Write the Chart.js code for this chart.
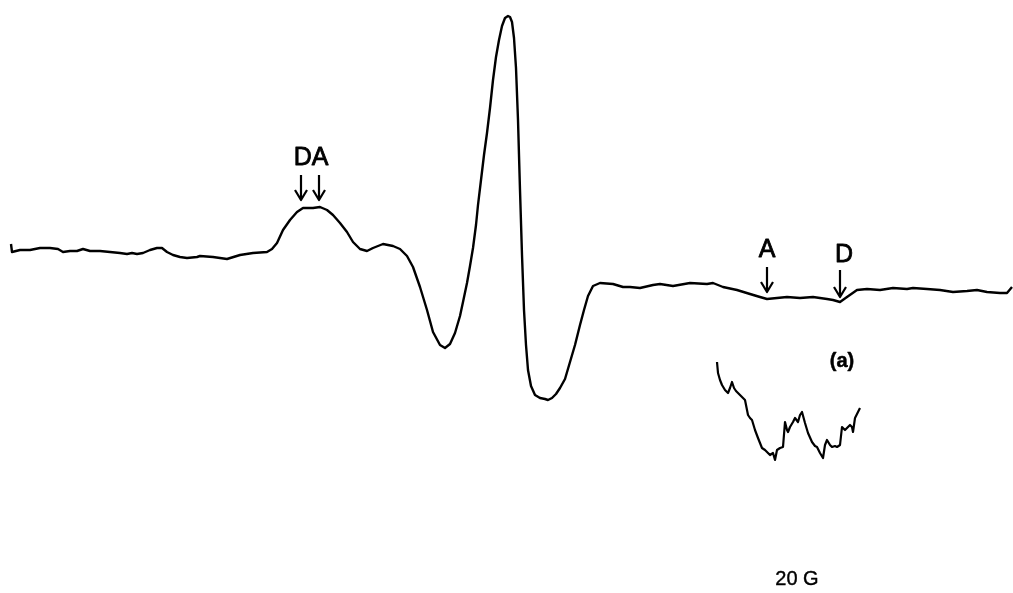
<!DOCTYPE html>
<html>
<head>
<meta charset="utf-8">
<style>
  html, body { margin: 0; padding: 0; background: #fff; }
  #wrap { width: 1013px; height: 593px; }
</style>
<script src="https://cdn.jsdelivr.net/npm/chart.js@4/dist/chart.umd.min.js"></script>
</head>
<body>
<div id="wrap"><canvas id="epr" width="1013" height="593"></canvas></div>
<script>
// EPR first-derivative spectrum (field in arbitrary units, signal relative to baseline)
const mainField = [11,12,20,30,40,50,58,63,70,77,83,90,100,110,120,127,132,137,143,150,157,162,167,173,180,187,197,
  200,213,227,240,253,267,272,277,283,290,297,303,313,320,327,333,340,347,353,360,367,373,383,393,400,
  407,413,420,427,433,440,445,450,455,460,463,467,470,473,476,478,481,484,487,490,493,496,499,502,505,508,510,512,
  514,516,518,520,522,524,526,528,531,535,540,545,548,552,556,560,565,570,575,580,584,588,593,600,
  613,623,630,640,653,660,673,690,707,713,723,737,750,760,767,777,787,800,813,827,833,840,847,857,867,
  880,893,907,913,927,940,953,967,977,987,1000,1007,1012];
const mainSignal = [6,-2,0,0,2,2,1,-2,-1,-1,1,-1,-1,-2,-3,-4,-3,-4,-3,0,2,2,-2,-5,-7,-8,-7,
  -6,-7,-9,-5,-3,-2,1,7,20,30,38,42,42,43,40,35,27,18,8,1,-1,2,6,4,1,
  -6,-17,-37,-60,-82,-95,-98,-94,-83,-66,-52,-33,-16,2,25,45,70,95,117,142,170,193,210,224,232,234,233,228,
  212,182,130,60,-5,-60,-95,-120,-136,-145,-148,-149,-150,-148,-144,-138,-129,-112,-95,-75,-60,-46,-36,-33,
  -34,-37,-37,-38,-35,-34,-36,-33,-34,-33,-37,-40,-44,-47,-49,-48,-47,-48,-47,-49,-50,-52,-47,-40,-39,
  -40,-38,-39,-38,-39,-40,-42,-41,-40,-42,-43,-43,-37];

// Expanded view of the high-field region
const insetField = [717,718,720,722,725,728,730,732,734,736,738,741,745,748,750,752,755,758,762,765,767,770,773,775,
  777,780,783,785,787,788,790,793,795,798,800,802,805,808,812,815,817,820,823,825,827,830,832,835,837,840,
  842,845,847,850,852,853,855,858,860];
const insetSignal = [-112,-123,-130,-135,-140,-143,-138,-132,-138,-141,-143,-146,-150,-165,-168,-170,-180,-188,-198,-200,-202,-205,-203,-210,
  -200,-198,-197,-172,-180,-182,-177,-172,-168,-172,-165,-162,-173,-183,-192,-196,-197,-203,-208,-195,-190,-195,-197,-196,-197,-195,
  -177,-180,-178,-175,-177,-182,-168,-162,-158];

// Peak markers: label, x position, label baseline, arrow top and arrow tip
const markerLabels = ['DA', 'A', 'D'];
const markerLabelX = [311, 767, 844];
const markerLabelY = [85, -7, -12];
const arrowX = [[301, 319], [767], [840]];
const arrowTop = [75, -17, -20];
const arrowTip = [50, -42, -47];

const panelLabel = '(a)';
const panelLabelPos = [842, -117];
const scaleLabel = '20 G';
const scaleLabelPos = [797, -335];

const toPoints = (xs, ys) => xs.map((x, i) => ({ x: x, y: ys[i] }));

// Draws text with a hairline outline so it reads as heavy as the trace
function heavyText(ctx, t, px, py, w) {
  ctx.lineWidth = w;
  ctx.strokeText(t, px, py);
  ctx.fillText(t, px, py);
}

const annotations = {
  id: 'annotations',
  afterDatasetsDraw(chart) {
    const { ctx, scales: { x, y } } = chart;
    ctx.save();
    ctx.fillStyle = '#000';
    ctx.strokeStyle = '#000';
    ctx.textAlign = 'center';
    ctx.textBaseline = 'alphabetic';
    ctx.lineJoin = 'round';
    ctx.font = '25px "Liberation Sans", Arial, sans-serif';
    markerLabels.forEach((t, i) => {
      heavyText(ctx, t, x.getPixelForValue(markerLabelX[i]), y.getPixelForValue(markerLabelY[i]), 0.8);
      arrowX[i].forEach(ax => {
        const px = x.getPixelForValue(ax);
        const top = y.getPixelForValue(arrowTop[i]);
        const tip = y.getPixelForValue(arrowTip[i]);
        ctx.lineWidth = 2.2;
        ctx.beginPath();
        ctx.moveTo(px, top);
        ctx.lineTo(px, tip);
        ctx.moveTo(px - 6, tip - 10);
        ctx.lineTo(px, tip);
        ctx.lineTo(px + 6, tip - 10);
        ctx.stroke();
      });
    });
    ctx.font = 'bold 20px "Liberation Sans", Arial, sans-serif';
    heavyText(ctx, panelLabel, x.getPixelForValue(panelLabelPos[0]), y.getPixelForValue(panelLabelPos[1]), 0.5);
    ctx.font = '20px "Liberation Sans", Arial, sans-serif';
    heavyText(ctx, scaleLabel, x.getPixelForValue(scaleLabelPos[0]), y.getPixelForValue(scaleLabelPos[1]), 0.4);
    ctx.restore();
  }
};

new Chart(document.getElementById('epr'), {
  type: 'scatter',
  data: {
    datasets: [
      { data: toPoints(mainField, mainSignal), showLine: true, borderColor: '#000', borderWidth: 2.4,
        pointRadius: 0, tension: 0, borderJoinStyle: 'round' },
      { data: toPoints(insetField, insetSignal), showLine: true, borderColor: '#000', borderWidth: 2.2,
        pointRadius: 0, tension: 0, borderJoinStyle: 'round' }
    ]
  },
  options: {
    responsive: false,
    animation: false,
    layout: { padding: 0 },
    plugins: { legend: { display: false }, tooltip: { enabled: false } },
    scales: {
      x: { type: 'linear', min: 0, max: 1013, display: false },
      y: { type: 'linear', min: -343, max: 250, display: false }
    }
  },
  plugins: [annotations]
});
</script>
</body>
</html>
